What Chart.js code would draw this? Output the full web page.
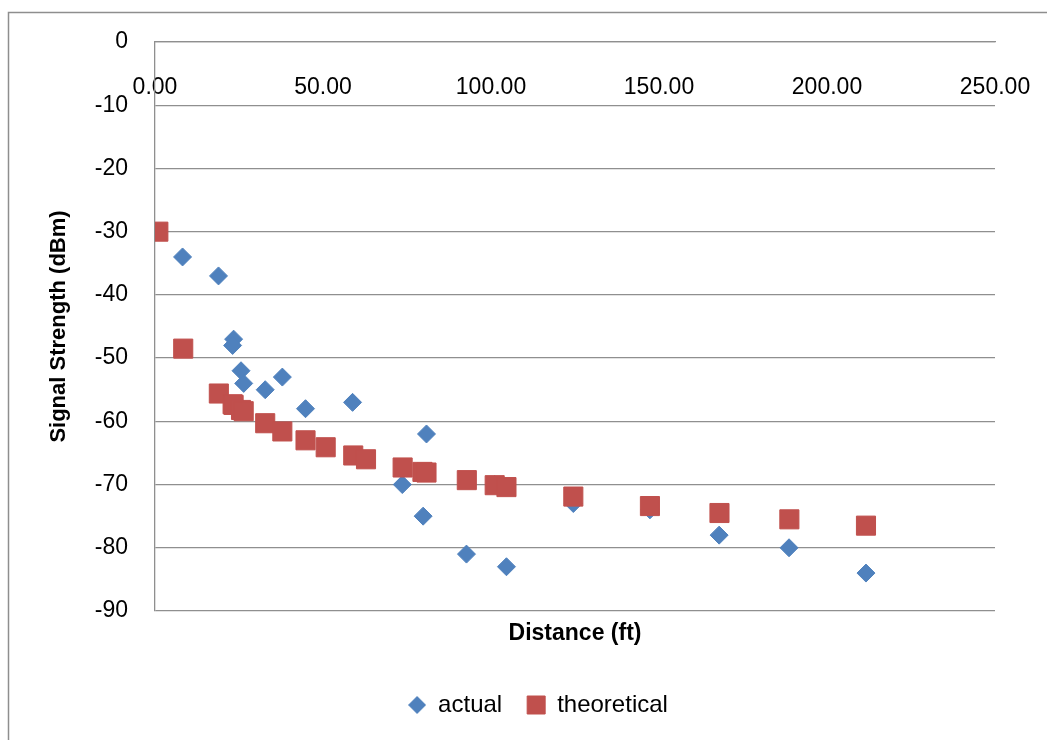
<!DOCTYPE html>
<html>
<head>
<meta charset="utf-8">
<title>Signal Strength vs Distance</title>
<script src="https://cdn.jsdelivr.net/npm/chart.js@4.4.1/dist/chart.umd.min.js"></script>
<style>
  html, body { margin: 0; padding: 0; background: #fff; }
  #chart { display: block; }
</style>
</head>
<body>
<canvas id="chart" width="1047" height="740"></canvas>
<script>
// measured points: distance (ft) / received signal (dBm)
var actualFt  = [8.2, 18.9, 23.4, 23.1, 25.6, 26.4, 32.8, 37.9, 44.8, 58.8, 80.8, 73.6, 79.8, 92.7, 101.1, 104.6, 124.5, 147.3, 167.9, 188.7, 211.6];
var actualDbm = [-34, -37, -47, -48, -52, -54, -55, -53, -58, -57, -62, -70, -75, -81, -70, -83, -73, -74, -78, -80, -84];

// free space estimate at the same distances
var theoFt  = [1.0, 8.4, 19.0, 23.1, 23.4, 25.6, 26.4, 32.8, 37.9, 44.8, 50.8, 59.0, 62.8, 73.7, 79.6, 80.8, 92.8, 101.1, 104.6, 124.5, 147.3, 168.0, 188.8, 211.6];
var theoDbm = [-30.0, -48.5, -55.6, -57.3, -57.4, -58.2, -58.4, -60.3, -61.6, -63.0, -64.1, -65.4, -66.0, -67.3, -68.0, -68.1, -69.3, -70.1, -70.4, -71.9, -73.4, -74.5, -75.5, -76.5];

var xTicks = [0, 50, 100, 150, 200, 250];
var yTicks = [0, -10, -20, -30, -40, -50, -60, -70, -80, -90];

var BLUE = '#4F81BD';
var RED = '#C0504D';
var GRID = '#8f8f8f';

function toPoints(xs, ys) {
	return xs.map(function (x, i) { return { x: x, y: ys[i] }; });
}

function diamondIcon(size, color) {
	var c = document.createElement('canvas');
	c.width = size;
	c.height = size;
	var g = c.getContext('2d');
	g.fillStyle = color;
	g.beginPath();
	g.moveTo(size / 2, 0);
	g.lineTo(size, size / 2);
	g.lineTo(size / 2, size);
	g.lineTo(0, size / 2);
	g.closePath();
	g.fill();
	return c;
}
var legendDiamond = diamondIcon(18, BLUE);

// thin outer frame, top and left edges only
var framePlugin = {
	id: 'frame',
	beforeDraw: function (chart) {
		var ctx = chart.ctx;
		ctx.save();
		ctx.strokeStyle = '#8e8e8e';
		ctx.lineWidth = 1.5;
		ctx.beginPath();
		ctx.moveTo(8.5, chart.height);
		ctx.lineTo(8.5, 12.5);
		ctx.lineTo(chart.width, 12.5);
		ctx.stroke();
		ctx.restore();
	}
};

Chart.defaults.font.family = "'Liberation Sans', Arial, sans-serif";
Chart.defaults.color = '#000';

new Chart(document.getElementById('chart'), {
	type: 'scatter',
	data: {
		datasets: [{
			label: 'actual',
			data: toPoints(actualFt, actualDbm),
			pointStyle: 'rectRot',
			pointRadius: 9,
			pointHoverRadius: 9,
			backgroundColor: BLUE,
			borderColor: BLUE,
			borderWidth: 1,
			order: 1
		}, {
			label: 'theoretical',
			data: toPoints(theoFt, theoDbm),
			pointStyle: 'rect',
			pointRadius: 13.5,
			pointHoverRadius: 13.5,
			backgroundColor: RED,
			borderColor: RED,
			borderWidth: 1,
			order: 0
		}]
	},
	options: {
		responsive: false,
		animation: false,
		devicePixelRatio: 1,
		layout: { autoPadding: false, padding: { left: 29, right: 0, top: 42, bottom: 13 } },
		scales: {
			x: {
				type: 'linear',
				position: { y: 0 },
				min: 0,
				max: 250,
				afterBuildTicks: function (s) { s.ticks = xTicks.map(function (v) { return { value: v }; }); },
				// labels may hang past the plot edges; don't let them shrink it
				afterFit: function (s) { s.paddingLeft = 0; s.paddingRight = 0; },
				grid: { display: false, drawTicks: false },
				border: { color: GRID, width: 1.3 },
				ticks: {
					padding: 32,
					font: { size: 23 },
					color: '#000',
					callback: function (v) { return Number(v).toFixed(2); }
				}
			},
			xTitle: {
				type: 'linear',
				position: 'bottom',
				min: 0,
				max: 250,
				afterFit: function (s) { s.height = 57; },
				grid: { display: false },
				border: { display: false },
				ticks: { display: false },
				title: {
					display: true,
					text: 'Distance (ft)',
					font: { size: 23, weight: 'bold' },
					color: '#000',
					padding: { top: 0, bottom: 21 }
				}
			},
			y: {
				type: 'linear',
				position: 'left',
				min: -90,
				max: 0,
				afterBuildTicks: function (s) { s.ticks = yTicks.map(function (v) { return { value: v }; }); },
				afterFit: function (s) { s.width = 126; },
				grid: { color: GRID, lineWidth: 1.3, drawTicks: false },
				border: { color: GRID, width: 1.3 },
				ticks: { padding: 27, font: { size: 23 }, color: '#000' },
				title: {
					display: true,
					text: 'Signal Strength (dBm)',
					font: { size: 22, weight: 'bold' },
					color: '#000',
					padding: { top: 17, bottom: 0 }
				}
			},
			yPad: {
				type: 'linear',
				position: 'right',
				afterFit: function (s) { s.width = 52; },
				grid: { display: false },
				border: { display: false },
				ticks: { display: false }
			}
		},
		plugins: {
			tooltip: { enabled: false },
			legend: {
				position: 'bottom',
				labels: {
					usePointStyle: true,
					boxWidth: 18,
					boxHeight: 18,
					padding: 25,
					font: { size: 24 },
					color: '#000',
					generateLabels: function (chart) {
						var items = Chart.defaults.plugins.legend.labels.generateLabels(chart);
						items.forEach(function (it) {
							if (it.datasetIndex === 0) it.pointStyle = legendDiamond;
						});
						return items.sort(function (a, b) { return a.datasetIndex - b.datasetIndex; });
					}
				}
			}
		}
	},
	plugins: [framePlugin]
});
</script>
</body>
</html>
